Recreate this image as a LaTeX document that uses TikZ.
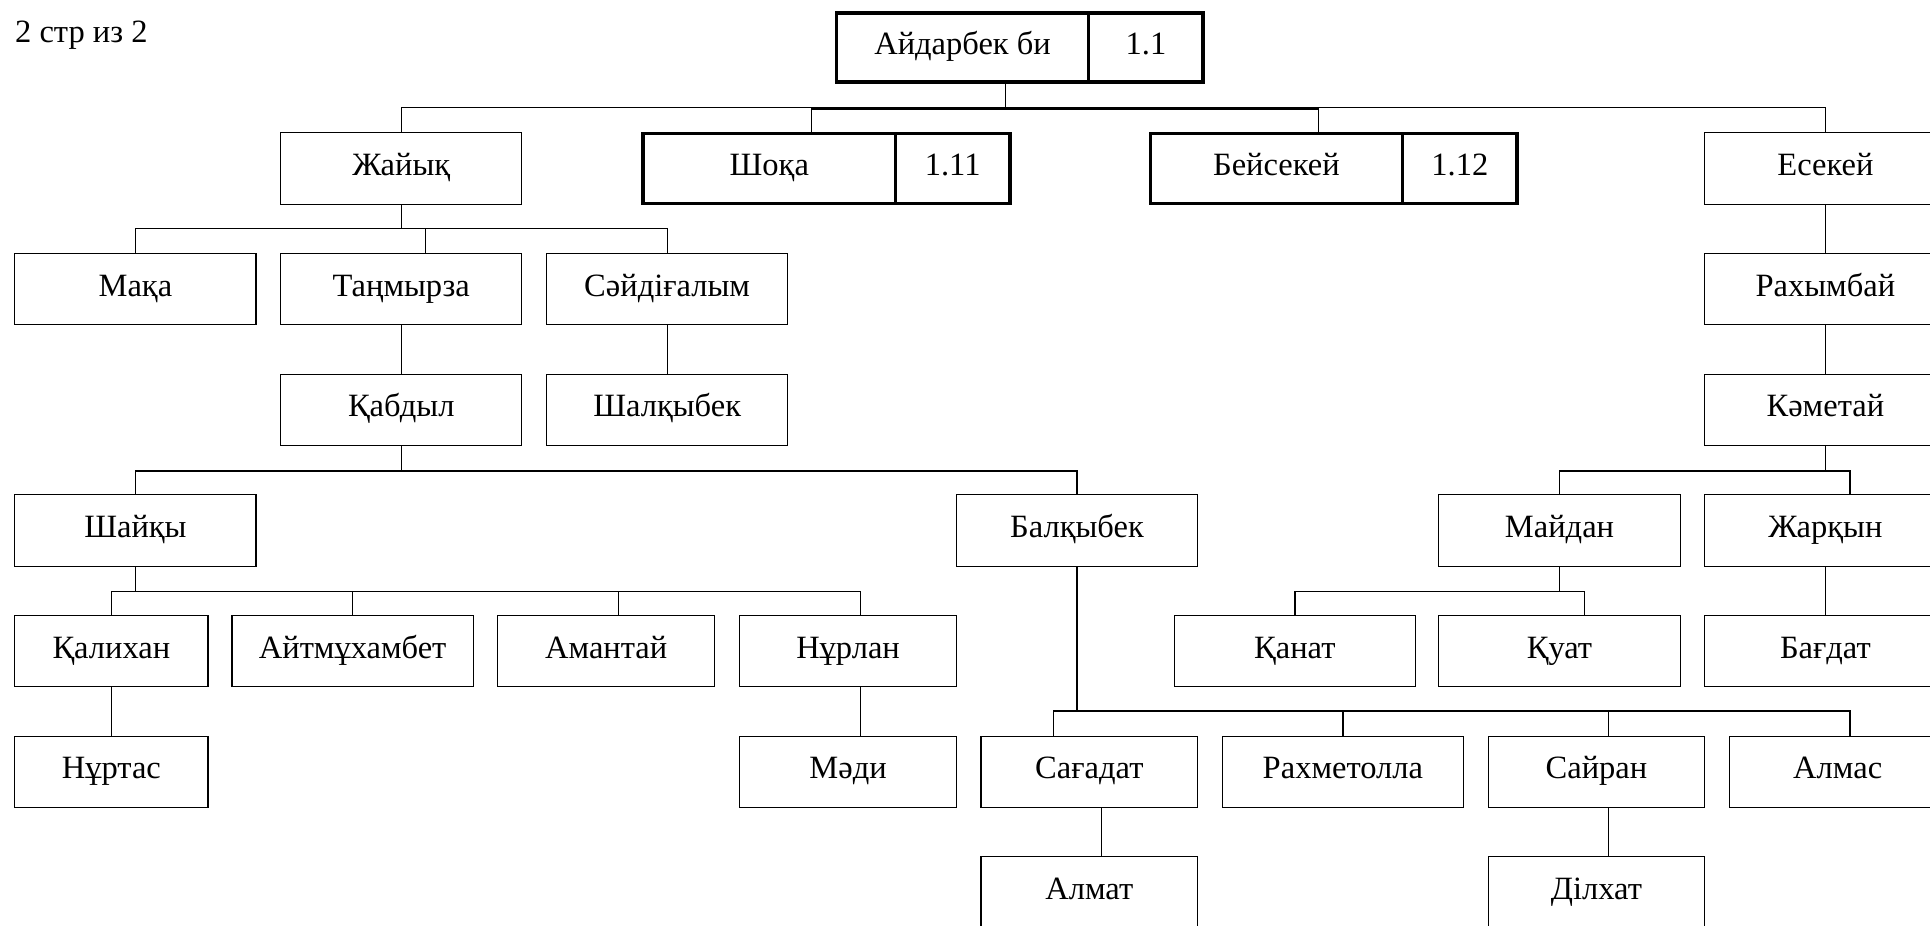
\documentclass[tikz,border=0pt]{standalone}
\usepackage{fontspec}
\setmainfont{Liberation Serif}
\usetikzlibrary{positioning}
\newcommand{\unitpx}{0.02462cm}
\tikzset{
  font=\fontsize{18.5}{22}\selectfont,
  person/.style={
    draw,
    line width=0.6pt,
    minimum width=196*\unitpx,
    minimum height=58*\unitpx,
    inner sep=0pt,
    text height=12pt,
    text depth=4pt
  },
  narrow/.style={
    person,
    minimum width=176*\unitpx
  },
  short/.style={
    person,
    minimum width=157*\unitpx
  },
  heir/.style={
    person,
    line width=2pt,
    outer sep=0pt,
    minimum width=205*\unitpx,
    minimum height=57*\unitpx
  },
  index/.style={
    heir,
    minimum width=93*\unitpx
  },
  link/.style={
    draw,
    line width=0.7pt
  }
}

\begin{document}
\begin{tikzpicture}[x=\unitpx, y=-\unitpx]
\clip (0,0) rectangle (1568,752);

\node[anchor=base west, inner sep=0pt] (pagemark) at (12,34.5) {2 стр из 2};

% Top of the tree with its number.
\node[heir, minimum height=56*\unitpx] (root) at (782,38.6) {Айдарбек би};
\node[index, minimum height=56*\unitpx, right=0pt of root] (rootnum) {1.1};

% Sons of the root.
\node[person] (zhayyq) at (326,137) {Жайық};
\node[heir] (shoqa) at (625,137) {Шоқа};
\node[index, right=0pt of shoqa] (shoqanum) {1.11};
\node[heir] (beysekey) at (1037,137) {Бейсекей};
\node[index, right=0pt of beysekey] (beysekeynum) {1.12};
\node[person] (esekey) at (1483,137) {Есекей};

\node[person] (maqa) at (110,235) {Мақа};
\node[person] (tanmyrza) at (326,235) {Таңмырза};
\node[person] (saydigalym) at (542,235) {Сәйдіғалым};
\node[person] (rakhymbay) at (1483,235) {Рахымбай};

\node[person] (qabdyl) at (326,333) {Қабдыл};
\node[person] (shalqybek) at (542,333) {Шалқыбек};
\node[person] (kametay) at (1483,333) {Кәметай};

\node[person] (shayqy) at (110,431) {Шайқы};
\node[person] (balqybek) at (875,431) {Балқыбек};
\node[person] (maydan) at (1267,431) {Майдан};
\node[person] (zharqyn) at (1483,431) {Жарқын};

\node[short] (qalikhan) at (90.5,529) {Қалихан};
\node[person] (aytmukhambet) at (286.5,529) {Айтмұхамбет};
\node[narrow] (amantay) at (492.5,529) {Амантай};
\node[narrow] (nurlan) at (689,529) {Нұрлан};
\node[person] (qanat) at (1052,529) {Қанат};
\node[person] (quat) at (1267,529) {Қуат};
\node[person] (bagdat) at (1483,529) {Бағдат};

\node[short] (nurtas) at (90.5,627) {Нұртас};
\node[narrow] (madi) at (689,627) {Мәди};
\node[narrow] (sagadat) at (885,627) {Сағадат};
\node[person] (rakhmetolla) at (1091,627) {Рахметолла};
\node[narrow] (sayran) at (1297,627) {Сайран};
\node[narrow] (almas) at (1493,627) {Алмас};

\node[narrow] (almat) at (885,725) {Алмат};
\node[narrow] (dilkhat) at (1297,725) {Ділхат};

% Each child goes up to its bus, then across to the parent.
\draw[link] (zhayyq.north) -- ++(0,-20) -| ([xshift=35*\unitpx]root.south);
\draw[link] ([xshift=34*\unitpx]shoqa.north) -- ++(0,-20) -| ([xshift=35*\unitpx]root.south);
\draw[link] ([xshift=34*\unitpx]beysekey.north) -- ++(0,-20) -| ([xshift=35*\unitpx]root.south);
\draw[link] (esekey.north) -- ++(0,-20) -| ([xshift=35*\unitpx]root.south);

\draw[link] (maqa.north) -- ++(0,-20) -| (zhayyq.south);
\draw[link] ([xshift=20*\unitpx]tanmyrza.north) -- ++(0,-20) -| (zhayyq.south);
\draw[link] (saydigalym.north) -- ++(0,-20) -| (zhayyq.south);
\draw[link] (rakhymbay.north) -- (esekey.south);

\draw[link] (qabdyl.north) -- (tanmyrza.south);
\draw[link] (shalqybek.north) -- (saydigalym.south);
\draw[link] (kametay.north) -- (rakhymbay.south);

\draw[link] (shayqy.north) -- ++(0,-19) -| (qabdyl.south);
\draw[link] (balqybek.north) -- ++(0,-19) -| (qabdyl.south);
\draw[link] (maydan.north) -- ++(0,-19) -| (kametay.south);
\draw[link] ([xshift=20*\unitpx]zharqyn.north) -- ++(0,-19) -| (kametay.south);

\draw[link] (qalikhan.north) -- ++(0,-19) -| (shayqy.south);
\draw[link] (aytmukhambet.north) -- ++(0,-19) -| (shayqy.south);
\draw[link] ([xshift=10*\unitpx]amantay.north) -- ++(0,-19) -| (shayqy.south);
\draw[link] ([xshift=10*\unitpx]nurlan.north) -- ++(0,-19) -| (shayqy.south);
\draw[link] (qanat.north) -- ++(0,-19) -| (maydan.south);
\draw[link] ([xshift=20*\unitpx]quat.north) -- ++(0,-19) -| (maydan.south);
\draw[link] (bagdat.north) -- (zharqyn.south);

\draw[link] (nurtas.north) -- (qalikhan.south);
\draw[link] ([xshift=10*\unitpx]madi.north) -- ([xshift=10*\unitpx]nurlan.south);
\draw[link] ([xshift=-29*\unitpx]sagadat.north) -- ++(0,-20) -| (balqybek.south);
\draw[link] (rakhmetolla.north) -- ++(0,-20) -| (balqybek.south);
\draw[link] ([xshift=10*\unitpx]sayran.north) -- ++(0,-20) -| (balqybek.south);
\draw[link] ([xshift=10*\unitpx]almas.north) -- ++(0,-20) -| (balqybek.south);

\draw[link] ([xshift=10*\unitpx]almat.north) -- ([xshift=10*\unitpx]sagadat.south);
\draw[link] ([xshift=10*\unitpx]dilkhat.north) -- ([xshift=10*\unitpx]sayran.south);

\end{tikzpicture}
\end{document}
